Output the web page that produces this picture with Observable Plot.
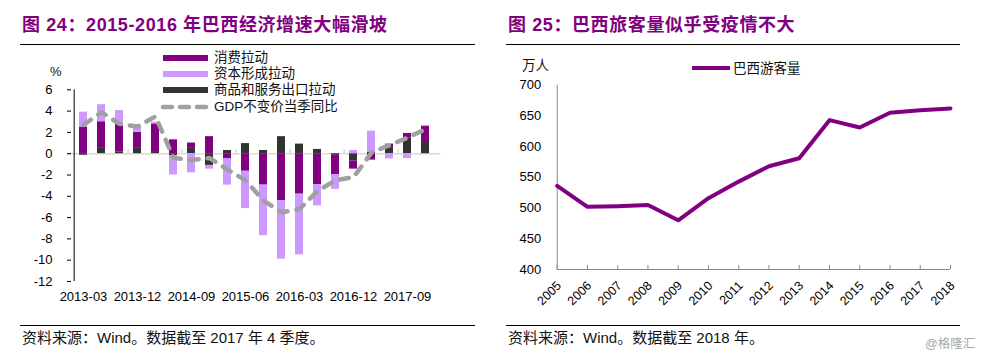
<!DOCTYPE html>
<html>
<head>
<meta charset="utf-8">
<script src="https://cdn.jsdelivr.net/npm/d3@7"></script>
<script src="https://cdn.jsdelivr.net/npm/@observablehq/plot@0.6"></script>
<style>
  html, body { margin: 0; padding: 0; background: #fff; }
  body { width: 982px; height: 356px; position: relative; overflow: hidden;
         font-family: "Liberation Sans", Arial, "Noto Sans CJK SC", sans-serif; color: #000; }
  .abs { position: absolute; white-space: nowrap; }
  .title { font-family: "Liberation Sans", Arial, "Noto Sans CJK SC", sans-serif; font-weight: bold;
           font-size: 18px; line-height: 18px; color: #800080; letter-spacing: 0.6px; }
  .hr { position: absolute; height: 0; border-top: 1.3px solid #000; }
  .foot { font-size: 15px; line-height: 16px; color: #111; }
  .leg { font-size: 13.5px; line-height: 16px; color: #111; }
  .sw { position: absolute; }
  .chart { position: absolute; top: 0; }
</style>
</head>
<body>
<script>
// ---------- Left chart data (图 24) ----------
const quarters = ["2013-03","2013-06","2013-09","2013-12","2014-03","2014-06","2014-09","2014-12",
  "2015-03","2015-06","2015-09","2015-12","2016-03","2016-06","2016-09","2016-12",
  "2017-03","2017-06","2017-09","2017-12"];
const exportsPull   = [-0.15, 0.5, 0.15, 0.5, 0.2, -0.2, 0.5, -1.1, 0.3, 0.95, 0.3, 1.6, 0.9, 0.4, -0.15, -0.7, 0.12, 0.5, 1.45, 1.05];
const consumption   = [2.5, 2.5, 2.6, 1.5, 2.6, 1.3, 0.5, 1.6, -0.45, -1.65, -2.95, -4.4, -3.8, -2.9, -1.8, -0.75, -0.6, 0.4, 0.45, 1.5];
const capital       = [1.4, 1.6, 1.3, 0.5, 0.15, -1.8, -1.8, -0.35, -2.5, -3.5, -4.75, -5.5, -5.7, -2.0, -1.4, 0.3, 2.0, -0.5, -0.45, 0.1];
const gdpYoY        = [2.7, 3.9, 2.8, 2.55, 3.5, -0.4, -0.6, -0.4, -1.5, -2.5, -4.4, -5.5, -5.2, -3.5, -2.5, -2.2, 0.1, 0.8, 1.5, 2.3];
const leftSeries    = ["商品和服务出口拉动", "消费拉动", "资本形成拉动"];
const leftColors    = ["#333333", "#800080", "#CC99FF"];
const leftXLabels   = ["2013-03","2013-12","2014-09","2015-06","2016-03","2016-12","2017-09"];
const leftYTicks    = [-12, -10, -8, -6, -4, -2, 0, 2, 4, 6];

// ---------- Right chart data (图 25) ----------
const years    = [2005,2006,2007,2008,2009,2010,2011,2012,2013,2014,2015,2016,2017,2018];
const visitors = [536, 502, 503, 505, 480, 516, 543, 568, 581, 643, 631, 655, 659, 662];
const rightYTicks = [400, 450, 500, 550, 600, 650, 700];
</script>

<div class="abs title" style="left:22px; top:16px;">图 24：2015-2016 年巴西经济增速大幅滑坡</div>
<div class="hr" style="left:20px; top:43.5px; width:455px;"></div>
<div class="abs title" style="left:508px; top:16px;">图 25：巴西旅客量似乎受疫情不大</div>
<div class="hr" style="left:506px; top:43.5px; width:454px;"></div>

<div id="left" class="chart" style="left:0;"></div>
<div id="right" class="chart" style="left:490px;"></div>

<!-- left legend -->
<div class="sw" style="left:163px; top:55px; width:45px; height:6px; background:#800080;"></div>
<div class="abs leg" style="left:214px; top:50px;">消费拉动</div>
<div class="sw" style="left:163px; top:71px; width:45px; height:6px; background:#CC99FF;"></div>
<div class="abs leg" style="left:214px; top:66px;">资本形成拉动</div>
<div class="sw" style="left:163px; top:87px; width:45px; height:6px; background:#333333;"></div>
<div class="abs leg" style="left:214px; top:82px;">商品和服务出口拉动</div>
<svg class="sw" style="left:160px; top:102px;" width="50" height="10">
  <line x1="3" y1="5" x2="47" y2="5" stroke="#A0A0A0" stroke-width="4.5" stroke-dasharray="9,8" stroke-linecap="round"/>
</svg>
<div class="abs leg" style="left:214px; top:98.5px;">GDP不变价当季同比</div>
<div class="abs leg" style="left:50px; top:64px; font-size:13px;">%</div>

<!-- right legend -->
<div class="sw" style="left:692px; top:66px; width:38px; height:4px; background:#800080;"></div>
<div class="abs leg" style="left:733px; top:60.5px;">巴西游客量</div>
<div class="abs leg" style="left:522px; top:57.5px;">万人</div>

<!-- footers -->
<div class="hr" style="left:20px; top:325px; width:455px;"></div>
<div class="abs foot" style="left:22px; top:330px;">资料来源：Wind。数据截至 2017 年 4 季度。</div>
<div class="hr" style="left:506px; top:325px; width:454px;"></div>
<div class="abs foot" style="left:508px; top:330px;">资料来源：Wind。数据截至 2018 年。</div>
<div class="abs" style="left:925px; top:333px; font-size:12.5px; color:#A6A6A6;">@格隆汇</div>

<script>
const fontStyle = {fontFamily: "'Liberation Sans', Arial, 'Noto Sans CJK SC', sans-serif", fontSize: "13px", color: "#000", background: "transparent", overflow: "visible"};

// ----- left chart -----
const LW = 490, LML = 67, LMR = 49.6;
const step = (LW - LML - LMR) / quarters.length;
const seriesArrays = [exportsPull, consumption, capital];
const barRows = [];
leftSeries.forEach((s, k) => seriesArrays[k].forEach((v, i) => barRows.push({q: quarters[i], series: s, value: v})));
const gdpRows = quarters.map((q, i) => ({q, v: gdpYoY[i]}));
const boundaryCats = quarters.filter((q, i) => i > 0 && i % 3 === 0);

const left = Plot.plot({
  width: LW, height: 356,
  marginLeft: LML, marginRight: LMR, marginTop: 89.3, marginBottom: 75,
  style: fontStyle,
  x: {type: "band", domain: quarters, paddingInner: 0.57, paddingOuter: 0.285, align: 0.5},
  y: {domain: [-12, 6]},
  color: {domain: leftSeries, range: leftColors},
  marks: [
    Plot.ruleY([0], {stroke: "#D9D9D9", strokeWidth: 1.5}),
    Plot.ruleX(boundaryCats, {dx: -step / 2, y1: 0, y2: 0.4, stroke: "#C8C8C8"}),
    Plot.barY(barRows, {x: "q", y: "value", fill: "series"}),
    Plot.lineY(gdpRows, {x: "q", y: "v", stroke: "#A0A0A0", strokeWidth: 4.5, strokeDasharray: "9,9", strokeLinecap: "round"}),
    Plot.ruleX([quarters[0]], {dx: -step / 2, y1: -12, y2: 6, stroke: "#000"}),
    Plot.axisY({ticks: leftYTicks, tickSize: 0, tickPadding: 15, tickFormat: d => String(d), label: null, fontSize: 13}),
    Plot.axisY({ticks: leftYTicks, tickSize: 4, dx: 4, tickFormat: () => "", label: null}),
    Plot.axisX({ticks: leftXLabels, tickSize: 0, tickPadding: 10, label: null, fontSize: 13})
  ]
});
document.getElementById("left").appendChild(left);

// ----- right chart -----
const visRows = years.map((y, i) => ({year: y, v: visitors[i]}));
const right = Plot.plot({
  width: 492, height: 356,
  marginLeft: 66.7, marginRight: 32, marginTop: 84.6, marginBottom: 87,
  style: fontStyle,
  x: {domain: [2005, 2018]},
  y: {domain: [400, 700]},
  marks: [
    Plot.ruleY([400], {stroke: "#888"}),
    Plot.ruleX([2005], {stroke: "#888"}),
    Plot.axisY({ticks: rightYTicks, tickSize: 0, tickPadding: 16, tickFormat: d => String(d), label: null, fontSize: 13}),
    Plot.axisX({ticks: years, tickSize: 0, tickPadding: 14, dx: 2, tickRotate: -45, tickFormat: d => String(d), label: null, fontSize: 12.5}),
    Plot.axisX({ticks: years, tickSize: 4, dy: -4, tickFormat: () => "", stroke: "#888", label: null}),
    Plot.lineY(visRows, {x: "year", y: "v", stroke: "#800080", strokeWidth: 4, strokeLinejoin: "round"})
  ]
});
document.getElementById("right").appendChild(right);
</script>
</body>
</html>
